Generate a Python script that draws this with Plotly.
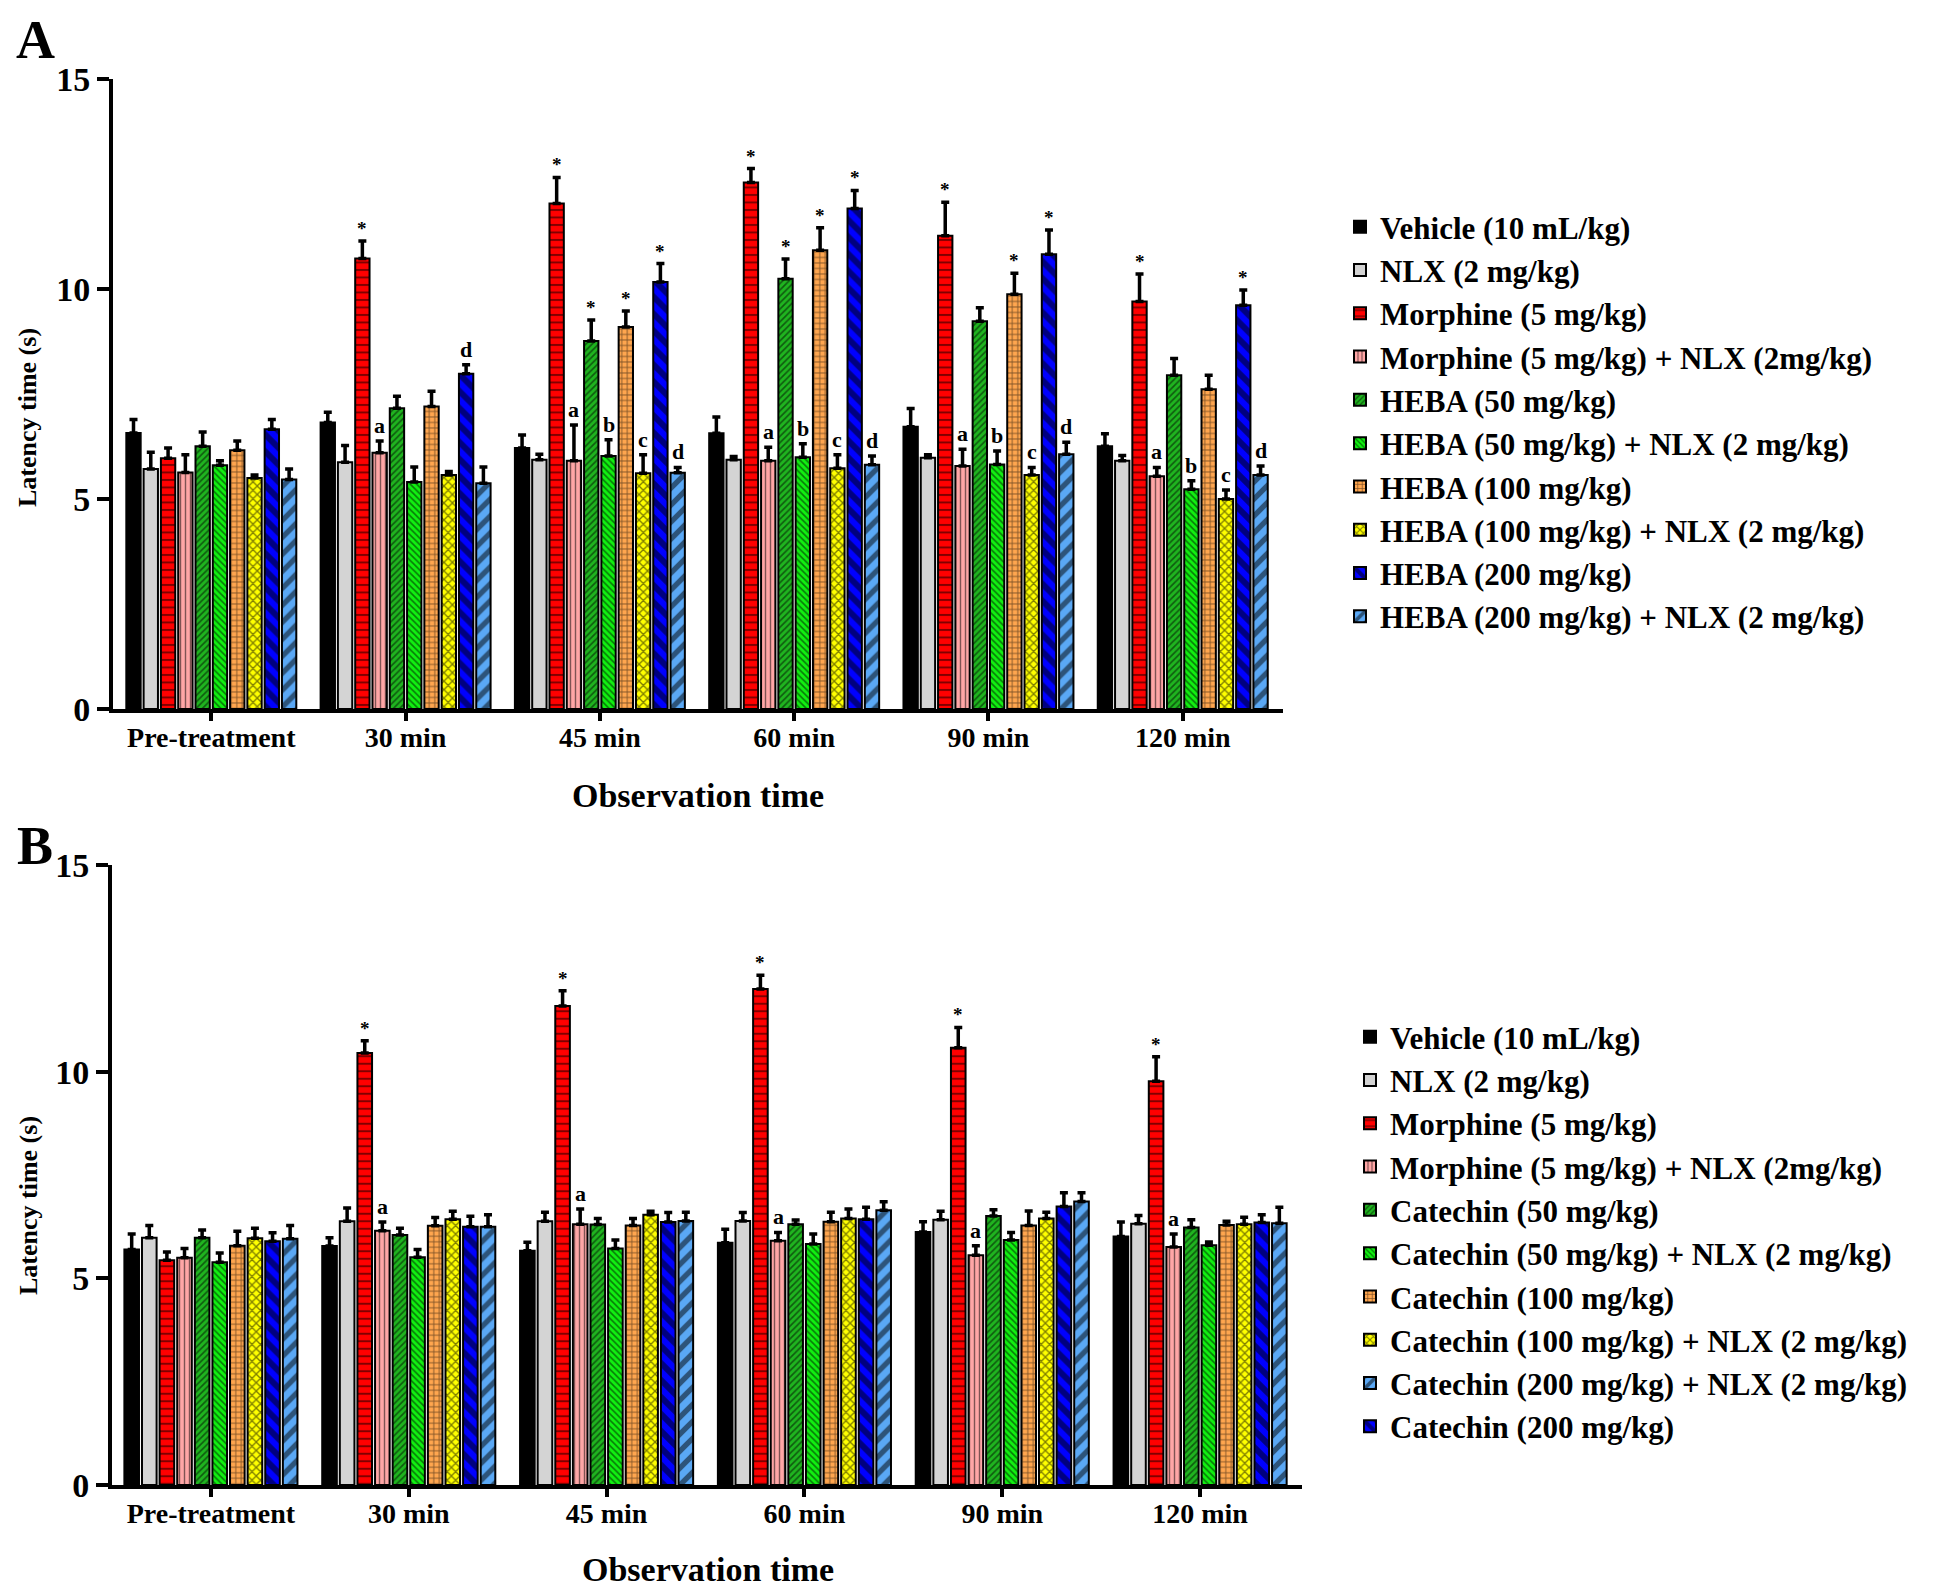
import plotly.graph_objects as go

# ---------------- data ----------------
time_points = ["Pre-treatment", "30 min", "45 min", "60 min", "90 min", "120 min"]

names_a = ["Vehicle (10 mL/kg)", "NLX (2 mg/kg)", "Morphine (5 mg/kg)",
           "Morphine (5 mg/kg) + NLX (2mg/kg)", "HEBA (50 mg/kg)",
           "HEBA (50 mg/kg) + NLX (2 mg/kg)", "HEBA (100 mg/kg)",
           "HEBA (100 mg/kg) + NLX (2 mg/kg)", "HEBA (200 mg/kg)",
           "HEBA (200 mg/kg) + NLX (2 mg/kg)"]

vehicle_a = [6.57, 6.82, 6.21, 6.56, 6.72, 6.25]
nlx_a = [5.71, 5.87, 5.93, 5.93, 5.98, 5.91]
morphine_a = [5.97, 10.72, 12.03, 12.53, 11.26, 9.70]
morph_nlx_a = [5.63, 6.10, 5.91, 5.91, 5.78, 5.54]
heba50_a = [6.25, 7.16, 8.76, 10.24, 9.23, 7.94]
heba50_nlx_a = [5.80, 5.40, 6.02, 5.99, 5.82, 5.23]
heba100_a = [6.16, 7.20, 9.09, 10.92, 9.87, 7.61]
heba100_nlx_a = [5.50, 5.57, 5.61, 5.73, 5.57, 5.00]
heba200_a = [6.66, 7.98, 10.16, 11.91, 10.82, 9.61]
heba200_nlx_a = [5.46, 5.37, 5.62, 5.81, 6.06, 5.57]

vehicle_a_sem = [0.32, 0.24, 0.31, 0.39, 0.43, 0.30]
nlx_a_sem = [0.40, 0.40, 0.13, 0.08, 0.07, 0.12]
morphine_a_sem = [0.24, 0.42, 0.62, 0.33, 0.80, 0.65]
morph_nlx_a_sem = [0.42, 0.28, 0.85, 0.32, 0.40, 0.21]
heba50_a_sem = [0.34, 0.28, 0.50, 0.47, 0.32, 0.40]
heba50_nlx_a_sem = [0.11, 0.36, 0.39, 0.32, 0.32, 0.20]
heba100_a_sem = [0.22, 0.36, 0.38, 0.53, 0.50, 0.33]
heba100_nlx_a_sem = [0.07, 0.08, 0.44, 0.32, 0.18, 0.21]
heba200_a_sem = [0.23, 0.21, 0.44, 0.43, 0.58, 0.36]
heba200_nlx_a_sem = [0.25, 0.39, 0.13, 0.21, 0.29, 0.21]

none6 = ["", "", "", "", "", ""]
morphine_a_sig = ["", "*", "*", "*", "*", "*"]
morph_nlx_a_sig = ["", "a", "a", "a", "a", "a"]
heba50_a_sig = ["", "", "*", "*", "", ""]
heba50_nlx_a_sig = ["", "", "b", "b", "b", "b"]
heba100_a_sig = ["", "", "*", "*", "*", ""]
heba100_nlx_a_sig = ["", "", "c", "c", "c", "c"]
heba200_a_sig = ["", "d", "*", "*", "*", "*"]
heba200_nlx_a_sig = ["", "", "d", "d", "d", "d"]

names_b = ["Vehicle (10 mL/kg)", "NLX (2 mg/kg)", "Morphine (5 mg/kg)",
           "Morphine (5 mg/kg) + NLX (2mg/kg)", "Catechin (50 mg/kg)",
           "Catechin (50 mg/kg) + NLX (2 mg/kg)", "Catechin (100 mg/kg)",
           "Catechin (100 mg/kg) + NLX (2 mg/kg)", "Catechin (200 mg/kg)",
           "Catechin (200 mg/kg) + NLX (2 mg/kg)"]
legend_rank_b = [1, 2, 3, 4, 5, 6, 7, 8, 10, 9]

vehicle_b = [5.70, 5.78, 5.67, 5.86, 6.12, 6.01]
nlx_b = [5.98, 6.38, 6.38, 6.39, 6.42, 6.32]
morphine_b = [5.44, 10.45, 11.59, 12.00, 10.58, 9.77]
morph_nlx_b = [5.50, 6.15, 6.31, 5.91, 5.56, 5.76]
cat50_b = [5.98, 6.05, 6.30, 6.31, 6.51, 6.23]
cat50_nlx_b = [5.39, 5.51, 5.72, 5.83, 5.93, 5.80]
cat100_b = [5.79, 6.27, 6.28, 6.37, 6.28, 6.29]
cat100_nlx_b = [5.97, 6.43, 6.54, 6.45, 6.45, 6.31]
cat200_b = [5.90, 6.25, 6.36, 6.43, 6.74, 6.35]
cat200_nlx_b = [5.96, 6.25, 6.39, 6.65, 6.86, 6.33]

vehicle_b_sem = [0.37, 0.20, 0.20, 0.33, 0.25, 0.35]
nlx_b_sem = [0.30, 0.32, 0.22, 0.20, 0.20, 0.20]
morphine_b_sem = [0.20, 0.30, 0.37, 0.33, 0.49, 0.59]
morph_nlx_b_sem = [0.22, 0.21, 0.37, 0.20, 0.23, 0.31]
cat50_b_sem = [0.19, 0.16, 0.15, 0.10, 0.15, 0.19]
cat50_nlx_b_sem = [0.22, 0.19, 0.21, 0.24, 0.18, 0.08]
cat100_b_sem = [0.35, 0.20, 0.17, 0.23, 0.35, 0.09]
cat100_nlx_b_sem = [0.24, 0.19, 0.08, 0.23, 0.15, 0.17]
cat200_b_sem = [0.20, 0.25, 0.23, 0.29, 0.33, 0.19]
cat200_nlx_b_sem = [0.32, 0.29, 0.21, 0.20, 0.21, 0.39]

morphine_b_sig = ["", "*", "*", "*", "*", "*"]
morph_nlx_b_sig = ["", "a", "a", "a", "a", "a"]

values_a = [vehicle_a, nlx_a, morphine_a, morph_nlx_a, heba50_a, heba50_nlx_a,
            heba100_a, heba100_nlx_a, heba200_a, heba200_nlx_a]
sems_a = [vehicle_a_sem, nlx_a_sem, morphine_a_sem, morph_nlx_a_sem, heba50_a_sem,
          heba50_nlx_a_sem, heba100_a_sem, heba100_nlx_a_sem, heba200_a_sem,
          heba200_nlx_a_sem]
sigs_a = [none6, none6, morphine_a_sig, morph_nlx_a_sig, heba50_a_sig, heba50_nlx_a_sig,
          heba100_a_sig, heba100_nlx_a_sig, heba200_a_sig, heba200_nlx_a_sig]

values_b = [vehicle_b, nlx_b, morphine_b, morph_nlx_b, cat50_b, cat50_nlx_b,
            cat100_b, cat100_nlx_b, cat200_b, cat200_nlx_b]
sems_b = [vehicle_b_sem, nlx_b_sem, morphine_b_sem, morph_nlx_b_sem, cat50_b_sem,
          cat50_nlx_b_sem, cat100_b_sem, cat100_nlx_b_sem, cat200_b_sem,
          cat200_nlx_b_sem]
sigs_b = [none6, none6, morphine_b_sig, morph_nlx_b_sig, none6, none6,
          none6, none6, none6, none6]

# ---------------- styles ----------------
colors = ["#000000", "#d4d4d4", "#ff0000", "#ffa6a6", "#1fb51f", "#11f011",
          "#ffa64f", "#ffff00", "#0000ff", "#5aa8f5"]
shapes = ["", "", "-", "|", "/", "\\", "+", "x", "\\", "/"]
psizes = [8, 8, 7.5, 5, 4.5, 4.5, 5.5, 6, 12, 12]
psolid = [0.2, 0.2, 0.26, 0.28, 0.36, 0.36, 0.3, 0.4, 0.5, 0.45]

FONT = "Liberation Serif"
BARGAP = 0.11
N = 10

fig = go.Figure()


def add_panel(values, sems, sigs, names, xa, ya, legend, ranks):
    for i in range(N):
        fig.add_trace(go.Bar(
            x=time_points, y=values[i], name=names[i],
            xaxis=xa, yaxis=ya, legend=legend, legendrank=ranks[i],
            marker=dict(color=colors[i], line=dict(color="black", width=2),
                        pattern=dict(shape=shapes[i], fgcolor="black",
                                     fillmode="overlay", size=psizes[i],
                                     solidity=psolid[i])),
            error_y=dict(type="data", symmetric=False, array=sems[i],
                         arrayminus=[0] * 6, color="black", thickness=3.5,
                         width=4),
        ))
        for j in range(6):
            lab = sigs[i][j]
            if lab:
                xo = j - (1 - BARGAP) / 2 + (1 - BARGAP) / N * (i + 0.5)
                fig.add_annotation(
                    x=xo, y=values[i][j] + sems[i][j], xref=xa, yref=ya,
                    text=lab, showarrow=False, yanchor="bottom",
                    yshift=0 if lab == "*" else 1,
                    font=dict(family=FONT, size=19 if lab == "*" else 22,
                              color="black", weight="bold"))


add_panel(values_a, sems_a, sigs_a, names_a, "x", "y", "legend", list(range(1, 11)))
add_panel(values_b, sems_b, sigs_b, names_b, "x2", "y2", "legend2", legend_rank_b)

W, H = 1946, 1590
xdomA = [105 / W, 1275 / W]
ydomA = [1 - 701 / H, 1 - 70.7 / H]
xdomB = [104 / W, 1294 / W]
ydomB = [1 - 1477 / H, 1 - 857 / H]

xax = dict(type="category", showline=True, linecolor="black", linewidth=4,
           ticks="outside", ticklen=8, tickwidth=4, tickcolor="black",
           showgrid=False, zeroline=False, automargin=False, ticklabelstandoff=-8,
           tickfont=dict(family=FONT, size=28, color="black", weight="bold"))
yax = dict(range=[0, 15], tickvals=[0, 5, 10, 15], showline=True, linecolor="black",
           linewidth=4, ticks="outside", ticklen=12, tickwidth=4, tickcolor="black",
           showgrid=False, zeroline=False, automargin=False,
           tickfont=dict(family=FONT, size=34, color="black", weight="bold"))

legfont = dict(family=FONT, size=31, color="black", weight="bold")

fig.update_layout(
    width=W, height=H,
    margin=dict(l=0, r=0, t=0, b=0, autoexpand=False),
    paper_bgcolor="white", plot_bgcolor="white",
    barmode="group", bargap=BARGAP, bargroupgap=0.17,
    xaxis=dict(xax, domain=xdomA, anchor="y", range=[-0.506, 5.516]),
    yaxis=dict(yax, domain=ydomA, anchor="x"),
    xaxis2=dict(xax, domain=xdomB, anchor="y2", range=[-0.50, 5.515]),
    yaxis2=dict(yax, domain=ydomB, anchor="x2"),
    legend=dict(x=1332 / W, y=1 - 192 / H, xanchor="left", yanchor="top",
                font=legfont, bgcolor="rgba(0,0,0,0)", tracegroupgap=0),
    legend2=dict(x=1342 / W, y=1 - 1002 / H, xanchor="left", yanchor="top",
                 font=legfont, bgcolor="rgba(0,0,0,0)", tracegroupgap=0),
    showlegend=True,
)

# axis titles and panel letters
titles = [
    dict(x=20 / W, y=1 - 410 / H, text="Latency time (s)", textangle=-90, size=26,
         ya="middle"),
    dict(x=20 / W, y=1 - 1198 / H, text="Latency time (s)", textangle=-90, size=26,
         ya="middle"),
    dict(x=690 / W, y=1 - 787 / H, text="Observation time", textangle=0, size=34,
         ya="middle"),
    dict(x=700 / W, y=1 - 1561 / H, text="Observation time", textangle=0, size=34,
         ya="middle"),
    dict(x=27 / W, y=1.0, text="A", textangle=0, size=54, ya="top"),
    dict(x=27 / W, y=1 - 806 / H, text="B", textangle=0, size=54, ya="top"),
]
for t in titles:
    fig.add_annotation(x=t["x"], y=t["y"], xref="paper", yref="paper",
                       text=t["text"], textangle=t["textangle"], showarrow=False,
                       xanchor="center", yanchor=t["ya"],
                       font=dict(family=FONT, size=t["size"], color="black",
                                 weight="bold"))

fig.write_html("out.html")
